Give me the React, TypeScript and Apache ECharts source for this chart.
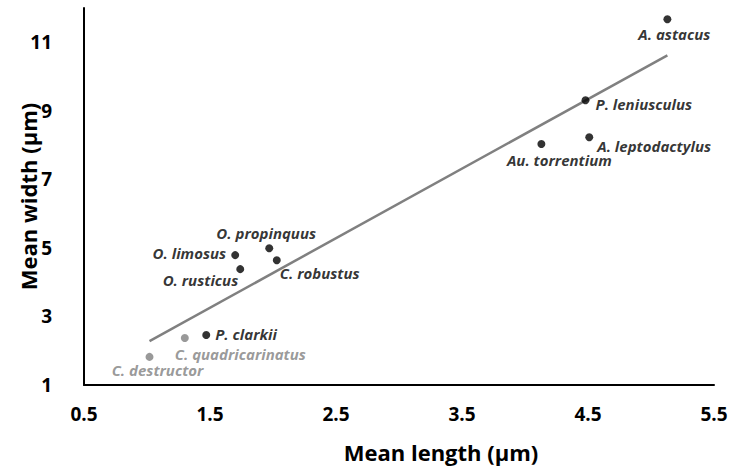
import React, { useEffect, useRef } from "react";
import * as echarts from "echarts";

const species = [
  "A. astacus",
  "P. leniusculus",
  "A. leptodactylus",
  "Au. torrentium",
  "O. propinquus",
  "O. limosus",
  "C. robustus",
  "O. rusticus",
  "P. clarkii",
  "C. quadricarinatus",
  "C. destructor",
];
const meanLength = [5.13, 4.48, 4.51, 4.13, 1.97, 1.7, 2.03, 1.74, 1.47, 1.3, 1.02];
const meanWidth = [11.67, 9.31, 8.23, 8.03, 4.99, 4.79, 4.64, 4.38, 2.46, 2.37, 1.82];
const isGrey = [false, false, false, false, false, false, false, false, false, true, true];

const trendX = [1.02, 5.13];
const trendY = [2.28, 10.62];

const xTicks = [0.5, 1.5, 2.5, 3.5, 4.5, 5.5];
const yTicks = [1, 3, 5, 7, 9, 11];

const labelPlacement: Record<string, any> = {
  "A. astacus": { position: "bottom", distance: 3, offset: [7, 0] },
  "P. leniusculus": { position: "right", distance: 6, offset: [0, 4] },
  "A. leptodactylus": { position: "right", distance: 4, offset: [0, 9] },
  "Au. torrentium": { position: "bottom", distance: 4, offset: [18, 0] },
  "O. propinquus": { position: "top", distance: 4, offset: [-3, 0] },
  "O. limosus": { position: "left", distance: 5, offset: [0, -2] },
  "C. robustus": { position: "right", distance: 0, offset: [-1, 13] },
  "O. rusticus": { position: "left", distance: 0, offset: [2, 11] },
  "P. clarkii": { position: "right", distance: 5, offset: [0, -1] },
  "C. quadricarinatus": { position: "right", distance: 0, offset: [-14, 16] },
  "C. destructor": { position: "bottom", distance: 2, offset: [8, 0] },
};

const BLACK = "#000000";
const GREY = "#7f7f7f";
const FONT = "'Open Sans', sans-serif";

export default function App() {
  const ref = useRef<HTMLDivElement>(null);
  useEffect(() => {
    if (!ref.current) return;
    const chart = echarts.init(ref.current, undefined, { renderer: "svg" });
    const points = species.map((name, i) => {
      const c = isGrey[i] ? GREY : BLACK;
      const lp = labelPlacement[name];
      return {
        name,
        value: [meanLength[i], meanWidth[i]],
        itemStyle: { color: c },
        label: {
          show: true,
          formatter: name,
          position: lp.position,
          distance: lp.distance,
          offset: lp.offset,
          color: c,
          fontFamily: FONT,
          fontSize: 15,
          lineHeight: 15,
          fontWeight: "bold",
          fontStyle: "italic",
        },
      };
    });
    chart.setOption({
      animation: false,
      backgroundColor: "#ffffff",
      grid: {
        left: 84,
        right: 23,
        top: 8,
        bottom: 86,
        containLabel: false,
        outerBoundsMode: "none",
      },
      xAxis: {
        type: "value",
        min: xTicks[0],
        max: xTicks[xTicks.length - 1],
        interval: 1,
        name: "Mean length (µm)",
        nameLocation: "middle",
        nameGap: 56,
        nameMoveOverlap: false,
        nameTextStyle: {
          fontFamily: FONT,
          fontSize: 22,
          fontWeight: "bold",
          color: BLACK,
          padding: [0, 0, 0, 84],
        },
        axisLine: { show: true, lineStyle: { color: BLACK, width: 2 } },
        axisTick: { show: false },
        splitLine: { show: false },
        axisLabel: {
          margin: 19,
          fontFamily: FONT,
          fontSize: 19,
          fontWeight: "bold",
          color: BLACK,
          formatter: (v: number) => v.toFixed(1),
        },
      },
      yAxis: {
        type: "value",
        min: yTicks[0],
        max: 12,
        interval: 2,
        name: "Mean width (µm)",
        nameLocation: "middle",
        nameGap: 43,
        nameMoveOverlap: false,
        nameTextStyle: {
          fontFamily: FONT,
          fontSize: 22,
          lineHeight: 26,
          fontWeight: "bold",
          color: BLACK,
        },
        axisLine: { show: true, lineStyle: { color: BLACK, width: 2 } },
        axisTick: { show: false },
        splitLine: { show: false },
        axisLabel: {
          margin: 32,
          showMaxLabel: false,
          fontFamily: FONT,
          fontSize: 19,
          fontWeight: "bold",
          color: BLACK,
          formatter: (v: number) => (yTicks.includes(v) ? String(v) : ""),
        },
      },
      series: [
        {
          type: "line",
          data: trendX.map((x, i) => [x, trendY[i]]),
          showSymbol: false,
          symbol: "none",
          lineStyle: { color: "#808080", width: 2.5 },
          silent: true,
          z: 1,
        },
        {
          type: "scatter",
          symbol: "circle",
          symbolSize: 8,
          data: points,
          z: 2,
        },
      ],
    });
    return () => chart.dispose();
  }, []);
  return (
    <div
      ref={ref}
      style={{ position: "fixed", left: 0, top: 0, width: 737, height: 471 }}
    />
  );
}
